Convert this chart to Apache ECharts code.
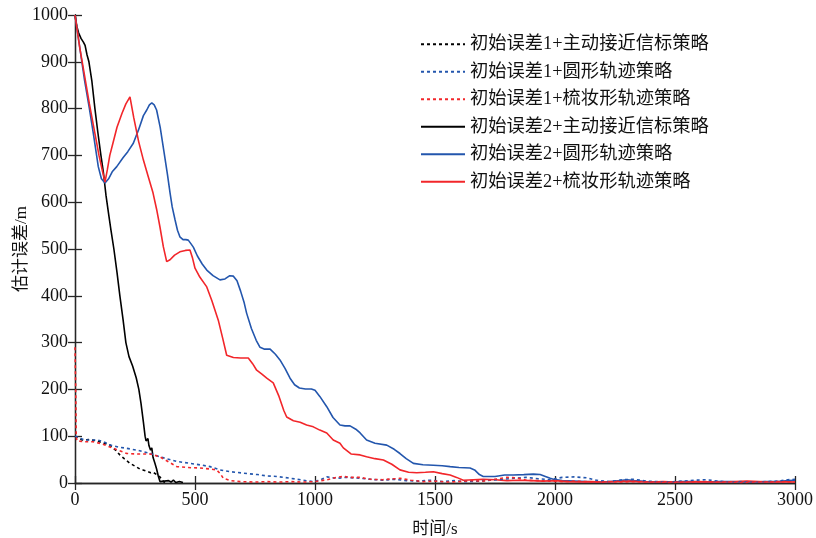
<!DOCTYPE html>
<html><head><meta charset="utf-8">
<script src="https://cdn.jsdelivr.net/npm/echarts@6/dist/echarts.min.js"></script>
<style>html,body{margin:0;padding:0;background:#fff}#c{width:816px;height:538px}</style>
</head><body><div id="c"></div>
<script>
const seriesNames = ['初始误差1+主动接近信标策略','初始误差1+圆形轨迹策略','初始误差1+梳妆形轨迹策略','初始误差2+主动接近信标策略','初始误差2+圆形轨迹策略','初始误差2+梳妆形轨迹策略'];
const xTicks = [0, 500, 1000, 1500, 2000, 2500, 3000];
const yTicks = [0,100,200,300,400,500,600,700,800,900,1000];

const err1Active = [[0,100],[7,97],[30,92],[60,93],[90,90],[120,85],[146,81],[165,72],[187,60],[205,52],[229,42],[250,36],[270,30],[283,28],[300,25],[315,22],[325,23],[340,18],[354,13],[365,5],[375,0]];

const err1Circle = [[0,100],[5,97],[40,92],[92,92],[120,88],[146,81],[180,77],[216,74],[260,70],[313,63],[360,55],[424,46],[480,42],[530,38],[563,35],[604,28],[650,24],[701,21],[760,18],[800,15],[840,14],[900,10],[950,6],[993,3],[1020,6],[1049,13],[1090,10],[1130,12],[1188,10],[1230,8],[1280,6],[1330,8],[1380,5],[1430,4],[1480,6],[1530,3],[1580,5],[1630,3],[1680,4],[1730,6],[1780,8],[1830,10],[1880,12],[1930,9],[1980,7],[2030,12],[2080,13],[2133,11],[2180,5],[2230,3],[2280,7],[2330,8],[2380,4],[2430,3],[2480,2],[2530,4],[2580,6],[2630,7],[2680,4],[2730,2],[2780,3],[2830,2],[2880,3],[2930,4],[2970,7],[3000,8]];

const err1Comb = [[0,290],[3,200],[5,100],[8,90],[40,88],[75,88],[110,84],[146,77],[180,70],[216,63],[260,62],[313,62],[340,58],[354,56],[390,45],[424,35],[470,33],[521,32],[560,30],[590,28],[605,20],[618,10],[650,5],[688,3],[750,2],[800,3],[850,2],[900,3],[950,2],[1000,3],[1050,7],[1090,12],[1118,14],[1150,12],[1188,12],[1230,8],[1280,7],[1330,9],[1354,10],[1400,6],[1450,3],[1500,4],[1550,2],[1600,3],[1650,5],[1700,4],[1750,8],[1800,12],[1840,11],[1880,6],[1930,5],[1980,4],[2030,3],[2080,4],[2130,3],[2180,2],[2230,3],[2280,2],[2330,3],[2380,2],[2430,2],[2480,1],[2530,2],[2580,2],[2630,3],[2680,2],[2730,2],[2780,1],[2830,2],[2880,2],[2930,3],[3000,2]];

const err2Active = [[0,1000],[8,975],[15,962],[25,950],[35,942],[42,935],[50,915],[58,900],[70,860],[83,800],[95,750],[108,700],[118,665],[129,615],[140,575],[150,540],[162,500],[175,450],[187,400],[200,350],[212,300],[225,270],[240,250],[255,225],[266,200],[275,170],[285,130],[292,100],[296,90],[300,88],[304,95],[308,80],[315,70],[320,75],[325,55],[333,42],[340,30],[347,15],[354,3],[362,0],[372,4],[380,1],[390,5],[400,2],[410,6],[420,1],[435,3],[450,1]];

const err2Circle = [[0,1000],[20,930],[40,860],[60,800],[76,748],[90,700],[97,676],[110,650],[125,641],[140,650],[155,665],[174,676],[200,695],[220,708],[243,726],[265,755],[285,785],[299,797],[310,808],[320,812],[330,808],[340,797],[355,760],[370,710],[385,660],[396,620],[405,590],[417,562],[427,540],[437,526],[450,520],[462,520],[472,519],[482,512],[493,504],[510,485],[530,468],[549,455],[575,443],[604,434],[625,436],[645,443],[660,442],[675,432],[690,410],[705,385],[715,363],[735,330],[755,305],[771,290],[790,286],[813,286],[835,275],[854,263],[875,245],[896,224],[915,210],[935,203],[960,201],[985,201],[1000,198],[1020,185],[1049,163],[1075,140],[1104,124],[1125,122],[1146,122],[1170,115],[1188,107],[1215,92],[1250,85],[1299,81],[1330,72],[1354,63],[1380,52],[1410,42],[1450,39],[1493,38],[1530,37],[1563,35],[1600,33],[1646,32],[1665,28],[1685,18],[1701,14],[1750,14],[1790,17],[1826,17],[1870,18],[1910,19],[1938,18],[1960,14],[1980,10],[1993,8],[2030,5],[2080,4],[2130,3],[2180,2],[2230,3],[2270,5],[2300,7],[2330,5],[2380,3],[2430,2],[2480,2],[2530,3],[2580,3],[2630,2],[2680,3],[2730,3],[2780,2],[2830,2],[2880,3],[2930,3],[2970,5],[3000,6]];

const err2Comb = [[0,1000],[20,930],[40,870],[60,810],[80,755],[100,700],[115,665],[125,643],[135,670],[145,700],[158,726],[175,760],[196,790],[212,810],[229,825],[245,780],[265,730],[285,690],[305,655],[325,620],[340,585],[354,547],[368,505],[382,473],[390,475],[396,477],[415,487],[437,494],[460,497],[479,498],[490,480],[500,459],[520,440],[549,419],[570,390],[597,348],[615,310],[632,273],[660,268],[690,267],[722,267],[740,255],[757,241],[780,232],[799,224],[826,214],[850,185],[870,155],[882,141],[910,133],[938,130],[965,124],[993,120],[1020,113],[1049,107],[1076,92],[1104,85],[1118,75],[1150,62],[1188,60],[1215,56],[1250,52],[1285,49],[1320,40],[1354,28],[1390,23],[1424,22],[1460,23],[1493,24],[1530,20],[1563,17],[1590,12],[1618,6],[1660,7],[1700,8],[1750,7],[1800,5],[1850,6],[1900,5],[1950,4],[2000,5],[2050,3],[2100,2],[2150,3],[2200,2],[2250,3],[2300,4],[2350,3],[2400,2],[2450,3],[2500,2],[2550,2],[2600,3],[2650,2],[2700,2],[2750,3],[2800,4],[2850,3],[2900,2],[2950,3],[3000,2]];

const FONT = '"Liberation Serif","Times New Roman","Noto Sans CJK SC",serif';
const BLACK = '#000000', BLUE = '#2356ad', RED = '#f2262a';
const AX = '#262626';

function mk(name, data, color, dashed) {
  return {
    name, type: 'line', data, xAxisIndex: 0, yAxisIndex: 0,
    symbol: 'none', showSymbol: false, smooth: false, animation: false,
    lineStyle: { color, width: 1.6, type: dashed ? [3, 3] : 'solid' },
    itemStyle: { color, opacity: 0 }, z: dashed ? 3 : 2
  };
}

const chart = echarts.init(document.getElementById('c'), null, { renderer: 'canvas' });
const axisCommon = {
  type: 'value',
  axisLine: { show: true, lineStyle: { color: AX, width: 1.3 } },
  axisTick: { show: true, inside: true, length: 7, lineStyle: { color: AX, width: 1.3 } },
  splitLine: { show: false }
};
chart.setOption({
  backgroundColor: '#fff',
  animation: false,
  grid: { left: 75, right: 21, top: 15, bottom: 55, containLabel: false, outerBoundsMode: 'none' },
  legend: {
    orient: 'vertical', left: 415, top: 30,
    itemWidth: 44, itemHeight: 14, itemGap: 9,
    data: seriesNames,
    itemStyle: { opacity: 0 },
    textStyle: { fontFamily: FONT, fontSize: 18.3, color: '#111', lineHeight: 18.5 },
    backgroundColor: 'rgba(255,255,255,0)'
  },
  xAxis: [
    Object.assign({}, axisCommon, {
      min: 0, max: 3000, interval: 500, position: 'bottom',
      name: '时间/s', nameLocation: 'middle', nameGap: 38, nameMoveOverlap: false,
      nameTextStyle: { fontFamily: FONT, fontSize: 17, color: '#111' },
      axisLabel: { fontFamily: FONT, fontSize: 18, color: '#111', margin: 8,
        formatter: v => xTicks.includes(v) ? String(v) : '' }
    }),
    Object.assign({}, axisCommon, {
      min: 0, max: 3000, interval: 500, position: 'top',
      axisLabel: { show: false }
    })
  ],
  yAxis: [
    Object.assign({}, axisCommon, {
      min: 0, max: 1000, interval: 100, position: 'left',
      name: '估计误差/m', nameLocation: 'middle', nameGap: 45, nameRotate: 90, nameMoveOverlap: false,
      nameTextStyle: { fontFamily: FONT, fontSize: 17, color: '#111' },
      axisLabel: { fontFamily: FONT, fontSize: 18, color: '#111', margin: 7,
        formatter: v => yTicks.includes(v) ? String(v) : '' }
    }),
    Object.assign({}, axisCommon, {
      min: 0, max: 1000, interval: 100, position: 'right',
      axisLabel: { show: false }
    })
  ],
  series: [
    mk(seriesNames[0], err1Active, BLACK, true),
    mk(seriesNames[1], err1Circle, BLUE, true),
    mk(seriesNames[2], err1Comb, RED, true),
    mk(seriesNames[3], err2Active, BLACK, false),
    mk(seriesNames[4], err2Circle, BLUE, false),
    mk(seriesNames[5], err2Comb, RED, false)
  ]
});
</script></body></html>
